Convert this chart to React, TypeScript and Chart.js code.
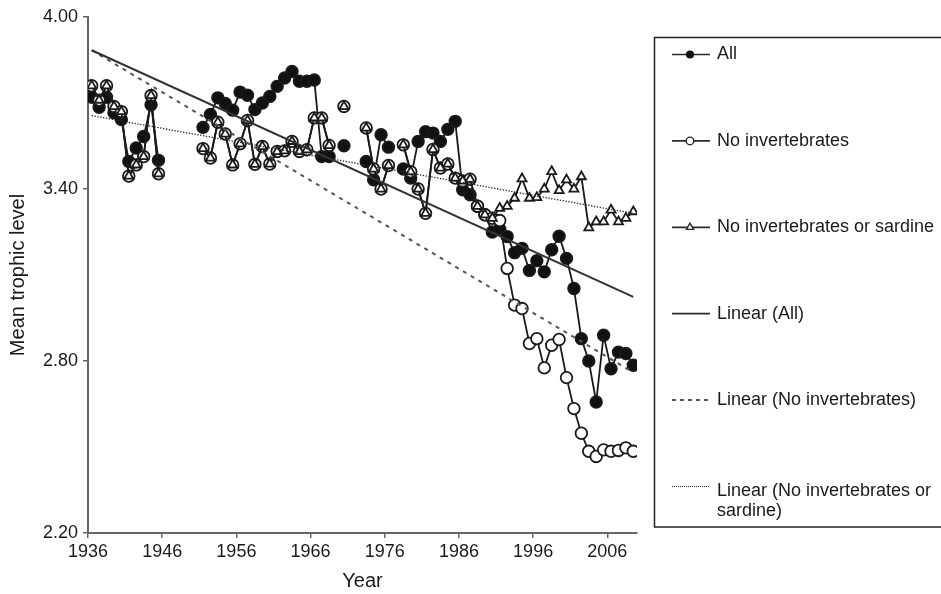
import { useEffect, useRef } from 'react';
import { Chart, registerables } from 'chart.js';

Chart.register(...registerables);

// Fishing years, one category per year
const years: number[] = Array.from({ length: 74 }, (_, i) => 1936 + i);

// Mean trophic level of the catch, 1936–2009 (null = no data for that year)
const allSpecies: (number | null)[] = [
  3.72, 3.685, 3.72, 3.666, 3.642, 3.496, 3.543, 3.583, 3.694, 3.5,
  null, null, null, null, null, 3.615, 3.66, 3.718, 3.698, 3.675,
  3.738, 3.727, 3.677, 3.7, 3.723, 3.758, 3.787, 3.81, 3.776, 3.776,
  3.78, 3.513, 3.513, null, 3.551, null, null, 3.496, 3.432, 3.589,
  3.546, null, 3.47, 3.438, 3.566, 3.6, 3.595, 3.566, 3.608, 3.636,
  3.397, 3.38, 3.34, 3.31, 3.25, 3.26, 3.234, 3.178, 3.193, 3.116,
  3.15, 3.111, 3.188, 3.235, 3.158, 3.053, 2.878, 2.8, 2.657, 2.89,
  2.773, 2.831, 2.826, 2.785,
];

const noInvertebrates: (number | null)[] = [
  3.76, 3.71, 3.76, 3.688, 3.67, 3.445, 3.484, 3.513, 3.726, 3.453,
  null, null, null, null, null, 3.541, 3.508, 3.633, 3.592, 3.484,
  3.558, 3.639, 3.486, 3.548, 3.487, 3.531, 3.533, 3.566, 3.531, 3.537,
  3.648, 3.648, 3.552, null, 3.688, null, null, 3.613, 3.47, 3.4,
  3.482, null, 3.554, 3.46, 3.4, 3.315, 3.538, 3.473, 3.487, 3.438,
  3.428, 3.434, 3.34, 3.31, 3.298, 3.29, 3.123, 2.995, 2.983, 2.861,
  2.878, 2.776, 2.855, 2.875, 2.742, 2.634, 2.548, 2.485, 2.467, 2.49,
  2.485, 2.488, 2.497, 2.485,
];

const noInvertebratesOrSardine: (number | null)[] = [
  3.76, 3.71, 3.76, 3.688, 3.67, 3.445, 3.484, 3.513, 3.726, 3.453,
  null, null, null, null, null, 3.541, 3.508, 3.633, 3.592, 3.484,
  3.558, 3.639, 3.486, 3.548, 3.487, 3.531, 3.533, 3.566, 3.531, 3.537,
  3.648, 3.648, 3.552, null, 3.688, null, null, 3.613, 3.47, 3.4,
  3.482, null, 3.554, 3.46, 3.4, 3.315, 3.538, 3.473, 3.487, 3.438,
  3.428, 3.434, 3.34, 3.31, 3.298, 3.333, 3.34, 3.368, 3.436, 3.368,
  3.37, 3.4, 3.461, 3.395, 3.432, 3.4, 3.443, 3.265, 3.286, 3.286,
  3.327, 3.286, 3.298, 3.321,
];

// Linear trend lines: value at the first and the last year
const trendYears: number[] = [1936, 2009];
const trendAll: number[] = [3.884, 3.024];
const trendNoInvertebrates: number[] = [3.884, 2.76];
const trendNoInvertebratesOrSardine: number[] = [3.656, 3.315];

const xTicks: number[] = [1936, 1946, 1956, 1966, 1976, 1986, 1996, 2006];
const yTicks: number[] = [2.2, 2.8, 3.4, 4.0];

const FONT = '"Liberation Sans", Arial, Helvetica, sans-serif';
const INK = '#1a1a1a';
const AXIS = '#666666';

// Each year is plotted in the middle of its category slot
const slot = (year: number) => year + 0.5;

const series = (values: (number | null)[]) =>
  years.map((year, i) => ({ x: slot(year), y: values[i] }));

const trend = (values: number[]) =>
  trendYears.map((year, i) => ({ x: slot(year), y: values[i] }));

type LegendKind = 'filled' | 'hollow' | 'triangle' | 'solid' | 'dashed' | 'dotted';
const legendItems: { lines: string[]; kind: LegendKind }[] = [
  { lines: ['All'], kind: 'filled' },
  { lines: ['No invertebrates'], kind: 'hollow' },
  { lines: ['No invertebrates or sardine'], kind: 'triangle' },
  { lines: ['Linear (All)'], kind: 'solid' },
  { lines: ['Linear (No invertebrates)'], kind: 'dashed' },
  { lines: ['Linear (No invertebrates or', 'sardine)'], kind: 'dotted' },
];

const boxLegend = {
  id: 'boxLegend',
  afterDraw(chart: Chart) {
    const ctx = chart.ctx;
    ctx.save();
    ctx.strokeStyle = '#222';
    ctx.lineWidth = 1.5;
    ctx.strokeRect(654.5, 37.5, 320, 489.5);

    const x0 = 672;
    const x1 = 710;
    const mx = 690;
    const textX = 717;
    legendItems.forEach((item, i) => {
      const y = 54.5 + i * 86.4;
      ctx.setLineDash([]);
      ctx.strokeStyle = '#2a2a2a';
      ctx.lineWidth = 1.7;
      if (item.kind === 'dashed') {
        ctx.setLineDash([4, 4]);
        ctx.strokeStyle = '#555';
        ctx.lineWidth = 2;
      } else if (item.kind === 'dotted') {
        ctx.setLineDash([1, 1]);
        ctx.lineWidth = 1;
      }
      ctx.beginPath();
      ctx.moveTo(x0, y);
      ctx.lineTo(x1, y);
      ctx.stroke();
      ctx.setLineDash([]);
      ctx.lineWidth = 1.4;
      if (item.kind === 'filled') {
        ctx.fillStyle = '#111';
        ctx.beginPath();
        ctx.arc(mx, y, 4, 0, Math.PI * 2);
        ctx.fill();
      } else if (item.kind === 'hollow') {
        ctx.fillStyle = '#fff';
        ctx.beginPath();
        ctx.arc(mx, y, 3.8, 0, Math.PI * 2);
        ctx.fill();
        ctx.stroke();
      } else if (item.kind === 'triangle') {
        const r = 4.2;
        ctx.fillStyle = '#fff';
        ctx.beginPath();
        for (let k = 0; k < 3; k++) {
          const a = (k * 2 * Math.PI) / 3;
          const px = mx + Math.sin(a) * r;
          const py = y - Math.cos(a) * r;
          if (k === 0) ctx.moveTo(px, py);
          else ctx.lineTo(px, py);
        }
        ctx.closePath();
        ctx.fill();
        ctx.stroke();
      }
      ctx.fillStyle = INK;
      ctx.font = `18px ${FONT}`;
      ctx.textBaseline = 'middle';
      ctx.textAlign = 'left';
      item.lines.forEach((line, j) => {
        ctx.fillText(line, textX, y + 5 * (item.lines.length > 1 ? 1 : 0) + j * 20);
      });
    });
    ctx.restore();
  },
};

export default function App() {
  const ref = useRef<HTMLCanvasElement>(null);

  useEffect(() => {
    if (!ref.current) return;
    Chart.defaults.font.family = FONT;
    const markerLine = {
      borderColor: '#1a1a1a',
      borderWidth: 1.8,
      pointBorderColor: '#1a1a1a',
      pointBorderWidth: 1.8,
      tension: 0,
      spanGaps: false,
    };
    const chart = new Chart(ref.current, {
      type: 'line',
      data: {
        datasets: [
          {
            label: 'Linear (All)',
            data: trend(trendAll),
            borderColor: '#333',
            borderWidth: 2,
            pointRadius: 0,
            order: 0,
          },
          {
            label: 'Linear (No invertebrates)',
            data: trend(trendNoInvertebrates),
            borderColor: '#555',
            borderWidth: 2,
            borderDash: [4, 5],
            pointRadius: 0,
            order: 0,
          },
          {
            label: 'Linear (No invertebrates or sardine)',
            data: trend(trendNoInvertebratesOrSardine),
            borderColor: '#222',
            borderWidth: 1.3,
            borderDash: [1.3, 1.6],
            pointRadius: 0,
            order: 0,
          },
          {
            label: 'No invertebrates or sardine',
            data: series(noInvertebratesOrSardine),
            ...markerLine,
            pointStyle: 'triangle',
            pointRadius: 5.2,
            pointBackgroundColor: '#ffffff',
            order: 1,
          },
          {
            label: 'No invertebrates',
            data: series(noInvertebrates),
            ...markerLine,
            pointStyle: 'circle',
            pointRadius: 5.8,
            pointBackgroundColor: '#ffffff',
            order: 2,
          },
          {
            label: 'All',
            data: series(allSpecies),
            ...markerLine,
            pointStyle: 'circle',
            pointRadius: 5.8,
            pointBackgroundColor: '#111111',
            order: 3,
          },
        ],
      },
      options: {
        responsive: false,
        animation: false,
        events: [],
        layout: { padding: { top: 17, right: 304, bottom: 0, left: 0 } },
        plugins: {
          legend: { display: false },
          tooltip: { enabled: false },
        },
        scales: {
          x: {
            type: 'linear',
            min: 1936,
            max: 2010,
            afterBuildTicks: (scale: any) => {
              scale.ticks = xTicks.map((v) => ({ value: v }));
            },
            afterFit: (scale: any) => {
              scale.height = 61;
            },
            ticks: {
              color: INK,
              font: { size: 18 },
              padding: 3,
              maxRotation: 0,
              autoSkip: false,
              callback: (v: any) => String(v),
            },
            grid: {
              display: true,
              drawOnChartArea: false,
              drawTicks: true,
              tickLength: 5,
              color: AXIS,
              lineWidth: 1.5,
            },
            border: { display: true, color: AXIS, width: 2 },
            title: {
              display: true,
              text: 'Year',
              color: INK,
              font: { size: 20 },
              padding: { top: 4, bottom: 1 },
            },
          },
          y: {
            type: 'linear',
            min: 2.2,
            max: 4.0,
            afterBuildTicks: (scale: any) => {
              scale.ticks = yTicks.map((v) => ({ value: v }));
            },
            afterFit: (scale: any) => {
              scale.width = 88;
            },
            ticks: {
              color: INK,
              font: { size: 18 },
              padding: 5,
              autoSkip: false,
              callback: (v: any) => Number(v).toFixed(2),
            },
            grid: {
              display: true,
              drawOnChartArea: false,
              drawTicks: true,
              tickLength: 5,
              color: AXIS,
              lineWidth: 1.5,
            },
            border: { display: true, color: AXIS, width: 2 },
            title: {
              display: true,
              text: 'Mean trophic level',
              color: INK,
              font: { size: 20 },
              padding: { top: 6, bottom: 0 },
            },
          },
        },
      },
      plugins: [boxLegend],
    });
    return () => chart.destroy();
  }, []);

  return (
    <div
      style={{
        position: 'fixed',
        left: 0,
        top: 0,
        width: 941,
        height: 594,
        background: '#ffffff',
      }}
    >
      <canvas
        ref={ref}
        width={941}
        height={594}
        style={{ display: 'block', width: 941, height: 594 }}
      />
    </div>
  );
}
